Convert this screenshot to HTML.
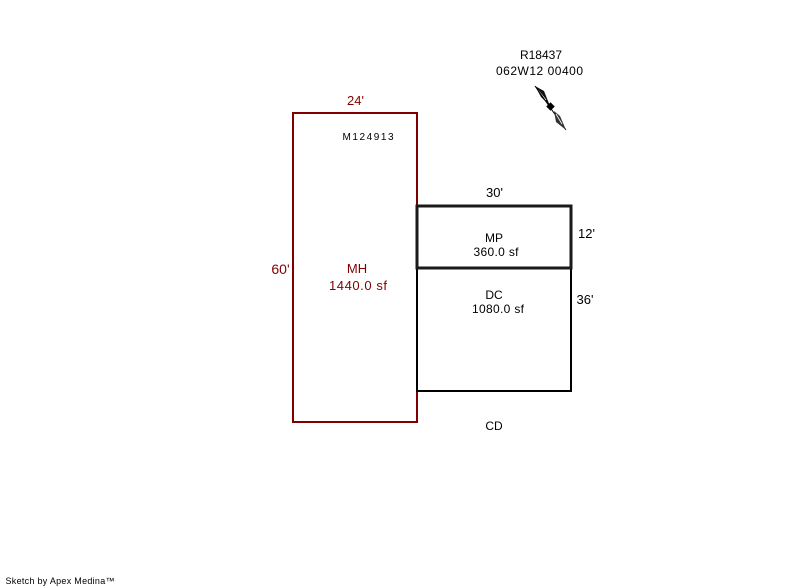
<!DOCTYPE html>
<html>
<head>
<meta charset="utf-8">
<style>
html,body{margin:0;padding:0;background:#fff;width:800px;height:587px;overflow:hidden}
svg{display:block}
text{font-family:"Liberation Sans",Arial,sans-serif;fill:#000;text-anchor:middle}
.r{fill:#800000}
</style>
</head>
<body>
<svg width="800" height="587" viewBox="0 0 800 587" xmlns="http://www.w3.org/2000/svg">
<g shape-rendering="crispEdges">
<rect x="293" y="113" width="124" height="309" fill="none" stroke="#800000" stroke-width="2"/>
<rect x="417" y="268" width="154" height="123" fill="none" stroke="#000" stroke-width="2"/>
<rect x="417" y="206" width="154" height="62" fill="none" stroke="#1a1a1a" stroke-width="3"/>
</g>

<path d="M535 86L544 91L550 106L541 97Z" fill="#111"/>
<path d="M538 90L546 100" fill="none" stroke="#fff" stroke-width="0.800"/>
<path d="M535 86L566 130" fill="none" stroke="#000" stroke-width="1"/>
<path d="M554 111L560 116L566 130L556 122Z" fill="#333"/>
<path d="M556 114L562 124" fill="none" stroke="#fff" stroke-width="0.800"/>
<rect x="547.500" y="103.500" width="6" height="6" transform="rotate(45 550.500 106.500)" fill="#000"/>

<text x="541" y="59" font-size="12">R18437</text>
<text x="539.500" y="75" font-size="12" textLength="87" lengthAdjust="spacing">062W12 00400</text>
<text class="r" x="355.500" y="105" font-size="13">24'</text>
<text x="368" y="140" font-size="10" textLength="51" lengthAdjust="spacing">M124913</text>
<text class="r" x="280.500" y="274" font-size="14">60'</text>
<text class="r" x="357" y="273" font-size="13">MH</text>
<text class="r" x="358" y="290" font-size="13" textLength="58" lengthAdjust="spacing">1440.0 sf</text>
<text x="494.500" y="197" font-size="13">30'</text>
<text x="586.500" y="238" font-size="13">12'</text>
<text x="585" y="304" font-size="13">36'</text>
<text x="494" y="242" font-size="12">MP</text>
<text x="496" y="256" font-size="12" textLength="45" lengthAdjust="spacing">360.0 sf</text>
<text x="494" y="299" font-size="12">DC</text>
<text x="498" y="313" font-size="12" textLength="52" lengthAdjust="spacing">1080.0 sf</text>
<text x="494" y="430" font-size="12">CD</text>
<text x="60" y="584" font-size="9" textLength="109" lengthAdjust="spacing">Sketch by Apex Medina™</text>
</svg>
</body>
</html>
